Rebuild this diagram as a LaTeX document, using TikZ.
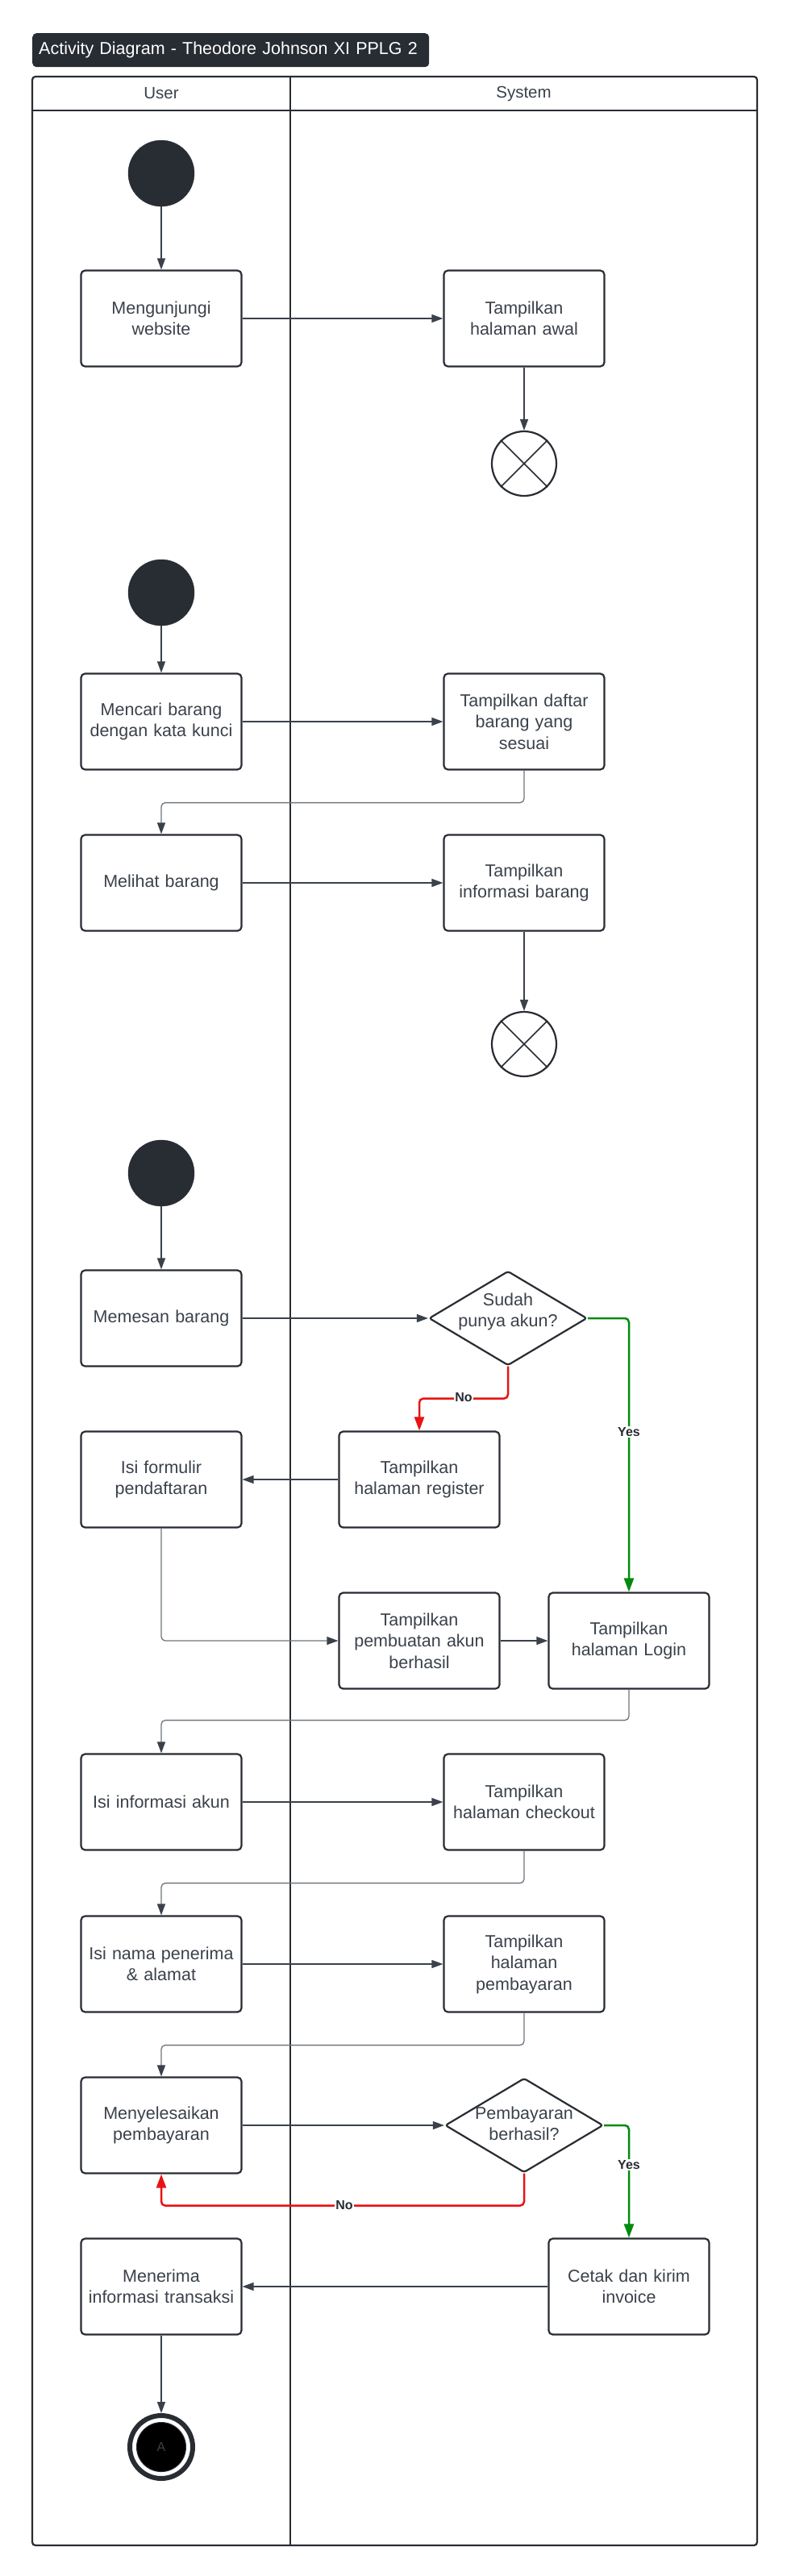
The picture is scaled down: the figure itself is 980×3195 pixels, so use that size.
\documentclass[tikz,border=0pt]{standalone}
\usepackage{fontspec}
\setmainfont{Liberation Sans}
\usetikzlibrary{arrows.meta,shapes.geometric}
\definecolor{dk}{HTML}{282C33}
\definecolor{tx}{HTML}{3A414A}
\definecolor{gy}{HTML}{6F747C}
\definecolor{rd}{HTML}{E81313}
\definecolor{gn}{HTML}{008A0E}
\tikzset{
  actbox/.style={draw=dk, line width=2.2pt, rounded corners=5pt, minimum width=199pt, minimum height=119pt,
    text width=196pt, align=center, inner sep=0pt, text=tx, font=\fontsize{21.5}{26.5}\selectfont},
  dectext/.style={align=center, inner sep=0pt, text=tx, font=\fontsize{21.5}{26.5}\selectfont},
  decbox/.style={diamond, draw=dk, line width=2.2pt, minimum width=196pt, minimum height=117pt, inner sep=0pt, rounded corners=3pt},
  startnode/.style={circle, fill=dk, draw=dk, minimum size=82pt, inner sep=0pt},
  flowend/.style={circle, draw=dk, fill=white, line width=2.2pt, minimum size=80pt, inner sep=0pt},
  conn/.style={draw=tx, line width=1.3pt, -{Triangle[length=14pt,width=10pt]}},
  elbow/.style={draw=gy, line width=1.3pt, rounded corners=5pt, -{Triangle[length=14pt,width=10pt,color=tx]}},
  noflow/.style={draw=rd, line width=2.5pt, rounded corners=5pt, -{Triangle[length=17pt,width=12pt]}},
  yesflow/.style={draw=gn, line width=2.5pt, rounded corners=5pt, -{Triangle[length=17pt,width=12pt]}},
  lbl/.style={fill=white, inner sep=1.5pt, text=dk, font=\bfseries\fontsize{16}{18}\selectfont},
  lanehead/.style={text=tx, font=\fontsize{20.5}{24}\selectfont, inner sep=0pt},
}
\begin{document}
\begin{tikzpicture}[x=1pt,y=-1pt]
\useasboundingbox (0,0) rectangle (980,3195);
% title
\node[fill=dk, rounded corners=5pt, text=white, minimum height=42pt, text width=476pt, inner xsep=8pt, inner ysep=0pt,
  align=left, anchor=north west, font=\fontsize{21.5}{26}\selectfont] (title) at (40,41) {Activity Diagram - Theodore Johnson XI PPLG 2};
% pool
\draw[dk, line width=2.2pt, rounded corners=4pt] (40,95) rectangle (939,3157);
\draw[dk, line width=2.2pt] (40,137) -- (939,137);
\draw[dk, line width=2pt] (360,95) -- (360,3157);
\node[lanehead] (huser) at (200,116) {User};
\node[lanehead] (hsys) at (649.5,116) {System};

% section 1
\node[startnode] (s1) at (200,215) {};
\node[actbox] (m1) at (200,395) {Mengunjungi\\website};
\node[actbox] (t1) at (650,395) {Tampilkan\\halaman awal};
\node[flowend] (x1) at (650,575) {};
\draw[dk, line width=1.5pt] (x1.45) -- (x1.225) (x1.135) -- (x1.315);

% section 2
\node[startnode] (s2) at (200,735) {};
\node[actbox] (m2) at (200,895) {Mencari barang\\dengan kata kunci};
\node[actbox] (t2) at (650,895) {Tampilkan daftar\\barang yang\\sesuai};
\node[actbox] (m3) at (200,1095) {Melihat barang};
\node[actbox] (t3) at (650,1095) {Tampilkan\\informasi barang};
\node[flowend] (x2) at (650,1295) {};
\draw[dk, line width=1.5pt] (x2.45) -- (x2.225) (x2.135) -- (x2.315);

% section 3
\node[startnode] (s3) at (200,1455) {};
\node[actbox] (m4) at (200,1635) {Memesan barang};
\node[decbox] (d1) at (630,1635) {};
\node[dectext] (d1t) at (630,1627) {Sudah\\punya akun?};
\node[actbox] (form) at (200,1835) {Isi formulir\\pendaftaran};
\node[actbox] (reg) at (520,1835) {Tampilkan\\halaman register};
\node[actbox] (pemb) at (520,2035) {Tampilkan\\pembuatan akun\\berhasil};
\node[actbox] (login) at (780,2035) {Tampilkan\\halaman Login};
\node[actbox] (info) at (200,2235) {Isi informasi akun};
\node[actbox] (chk) at (650,2235) {Tampilkan\\halaman checkout};
\node[actbox] (nama) at (200,2436) {Isi nama penerima\\\& alamat};
\node[actbox] (bayar) at (650,2436) {Tampilkan\\halaman\\pembayaran};
\node[actbox] (sel) at (200,2636) {Menyelesaikan\\pembayaran};
\node[decbox] (d2) at (650,2636) {};
\node[dectext] (d2t) at (650,2634) {Pembayaran\\berhasil?};
\node[actbox] (terima) at (200,2836) {Menerima\\informasi transaksi};
\node[actbox] (cetak) at (780,2836) {Cetak dan kirim\\invoice};
\node[circle, draw=dk, line width=6pt, fill=white, minimum size=78pt, inner sep=0pt] (fin) at (200,3035) {};
\node[circle, fill=black, draw=dk, line width=1pt, minimum size=61pt, inner sep=0pt, text=tx,
  font=\fontsize{16}{16}\selectfont] (finin) at (200,3035) {A};

% connectors
\draw[conn] (s1) -- (m1);
\draw[conn] (m1) -- (t1);
\draw[conn] (t1) -- (x1);
\draw[conn] (s2) -- (m2);
\draw[conn] (m2) -- (t2);
\draw[elbow] (t2.south) -- ++(0,40) -| (m3.north);
\draw[conn] (m3) -- (t3);
\draw[conn] (t3) -- (x2);
\draw[conn] (s3) -- (m4);
\draw[conn] (m4.east) -- (d1.west);
\draw[noflow] (d1.south) -- ++(0,40) -| (reg.north);
\draw[yesflow] (d1.east) -| (login.north);
\draw[conn] (reg.west) -- (form.east);
\draw[elbow] (form.south) |- (pemb.west);
\draw[conn] (pemb.east) -- (login.west);
\draw[elbow] (login.south) -- ++(0,38) -| (info.north);
\draw[conn] (info) -- (chk);
\draw[elbow] (chk.south) -- ++(0,40) -| (nama.north);
\draw[conn] (nama) -- (bayar);
\draw[elbow] (bayar.south) -- ++(0,40) -| (sel.north);
\draw[conn] (sel.east) -- (d2.west);
\draw[noflow] (d2.south) -- ++(0,40) -| (sel.south);
\draw[yesflow] (d2.east) -| (cetak.north);
\draw[conn] (cetak.west) -- (terima.east);
\draw[conn] (terima.south) -- (fin.north);

% labels
\node[lbl] (no1) at (575,1733) {No};
\node[lbl] (yes1) at (780,1776) {Yes};
\node[lbl] (no2) at (427,2735) {No};
\node[lbl] (yes2) at (780,2685) {Yes};
\end{tikzpicture}
\end{document}
